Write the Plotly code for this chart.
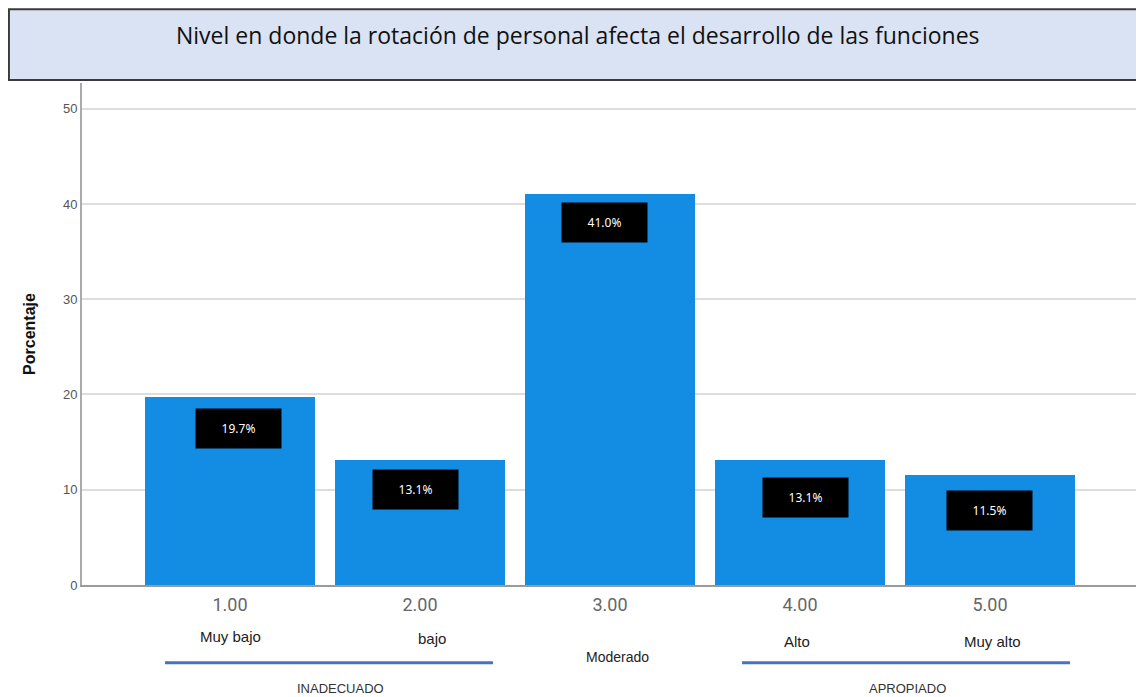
import plotly.graph_objects as go

categories = [1, 2, 3, 4, 5]
tick_labels = ["1.00", "2.00", "3.00", "4.00", "5.00"]
level_labels = ["Muy bajo", "bajo", "Moderado", "Alto", "Muy alto"]
percent = [19.7, 13.1, 41.0, 13.1, 11.5]
value_labels = ["19.7%", "13.1%", "41.0%", "13.1%", "11.5%"]
group_labels = ["INADECUADO", "APROPIADO"]

title_text = "Nivel en donde la rotación de personal afecta el desarrollo de las funciones"

fig = go.Figure()
fig.add_trace(go.Bar(
    x=categories, y=percent, width=0.895,
    marker=dict(color="#138de3", line=dict(width=0)),
    hoverinfo="skip", showlegend=False,
))

annotations = []
box_xshift = [8, -5, -6, 5, 0]
box_yshift = [-11, -9, -8, -17, -15]
for c, v, lab, xs, ys in zip(categories, percent, value_labels, box_xshift, box_yshift):
    annotations.append(dict(
        x=c, y=v, xref="x", yref="y", text=lab, showarrow=False,
        yanchor="top", yshift=ys, xshift=xs, width=83, height=37,
        bgcolor="black", font=dict(color="white", size=12, family="Noto Sans"),
    ))

level_yshift = [-51, -53, -72, -56, -56]
level_xshift = [0, 12, 7, -3, 3]
for c, lab, ys, xs in zip(categories, level_labels, level_yshift, level_xshift):
    annotations.append(dict(
        x=c, y=0, xref="x", yref="paper", text=lab, showarrow=False,
        yanchor="middle", yshift=ys, xshift=xs,
        font=dict(color="#222222", size=15 if lab != "Moderado" else 14, family="Liberation Sans"),
    ))

annotations.append(dict(x=1.584, y=0, xref="x", yref="paper", text=group_labels[0], showarrow=False,
                        yanchor="middle", yshift=-103, font=dict(color="#333333", size=13, family="Liberation Sans")))
annotations.append(dict(x=4.568, y=0, xref="x", yref="paper", text=group_labels[1], showarrow=False,
                        yanchor="middle", yshift=-103, font=dict(color="#333333", size=13, family="Liberation Sans")))

annotations.append(dict(x=0.4697, y=1.0956, xref="paper", yref="paper", text=title_text, showarrow=False,
                        xanchor="center", yanchor="middle",
                        font=dict(color="#111111", size=23, family="Open Sans")))

shapes = [
    dict(type="rect", xref="paper", yref="paper", x0=-0.0692, x1=1.06, y0=1.006, y1=1.147,
         fillcolor="#dae3f3", line=dict(color="#3a3a3a", width=2), layer="above"),
    dict(type="line", xref="x", yref="paper", x0=0.658, x1=2.384, y0=-0.155, y1=-0.155,
         line=dict(color="#4472c4", width=3)),
    dict(type="line", xref="x", yref="paper", x0=3.695, x1=5.421, y0=-0.155, y1=-0.155,
         line=dict(color="#4472c4", width=3)),
]

# page body has an 8px margin, so the figure is 8px smaller and shifted
fig.update_layout(
    width=1136, height=689,
    margin=dict(l=74, r=6, t=75, b=112),
    paper_bgcolor="white", plot_bgcolor="white",
    annotations=annotations, shapes=shapes,
    bargap=0,
)
fig.update_xaxes(
    range=[0.221, 5.779], tickvals=categories, ticktext=tick_labels,
    tickfont=dict(size=18, color="#666666", family="Roboto"),
    showline=True, linecolor="#9a9a9a", linewidth=2, showgrid=False, zeroline=False,
    ticks="", ticklabelstandoff=2, automargin=False,
)
fig.update_yaxes(
    range=[0, 52.7], tickvals=[0, 10, 20, 30, 40, 50],
    tickfont=dict(size=13, color="#555555", family="Liberation Sans"),
    showline=True, linecolor="#aaaaaa", linewidth=2,
    showgrid=True, gridcolor="#dddddd", gridwidth=2, zeroline=False, ticks="",
    automargin=False,
    title=dict(text="<b>Porcentaje</b>", font=dict(size=16, color="#111111", family="Liberation Sans"),
               standoff=23),
)

fig.write_html("out.html")
